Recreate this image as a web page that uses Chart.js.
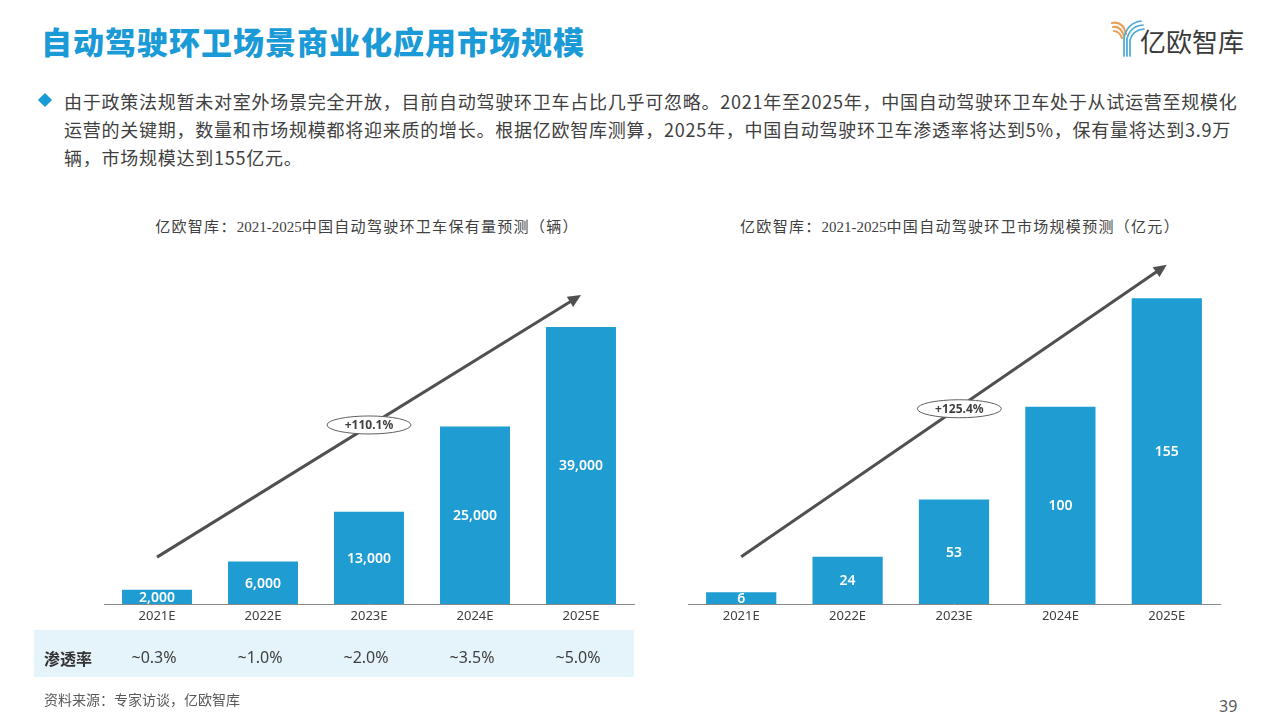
<!DOCTYPE html>
<html>
<head>
<meta charset="utf-8">
<script src="https://cdn.jsdelivr.net/npm/chart.js@4/dist/chart.umd.min.js"></script>
<style>
  body { margin: 0; background: #fff; font-family: "Noto Sans CJK SC", "Noto Sans", sans-serif; }
  #page { position: relative; width: 1280px; height: 720px; overflow: hidden; }
  .title { position: absolute; left: 41px; top: 18px; font-size: 31px; font-weight: 900; color: #1a9ad6; letter-spacing: 1px; }
  .para { position: absolute; left: 64px; top: 87px; font-size: 18px; line-height: 28px; color: #404040; letter-spacing: 0.75px; white-space: nowrap; }
  .bullet { position: absolute; left: 40px; top: 95px; width: 10px; height: 10px; background: #1a9ad6; transform: rotate(45deg); }
  .ctitle { position: absolute; top: 215px; font-size: 15px; color: #404040; font-family: "Noto Sans CJK SC", sans-serif; white-space: nowrap; transform: translateX(-50%); letter-spacing: 1.3px; }
  .ctitle .d { font-family: "Liberation Serif", serif; font-size: 15px; letter-spacing: 0; }
  .source { position: absolute; left: 44px; top: 689px; font-size: 14px; color: #595959; }
  .pnum { position: absolute; left: 1219px; top: 695px; font-size: 16px; color: #595959; font-family: "Noto Sans", sans-serif; }
  .logo { position: absolute; left: 1108px; top: 16px; }
  canvas { position: absolute; }
</style>
</head>
<body>
<div id="page">
  <div class="title">自动驾驶环卫场景商业化应用市场规模</div>
  <svg class="logo" width="150" height="44" viewBox="0 0 150 44">
    <g fill="none" stroke-linecap="round">
      <path d="M4 7 Q15 5 18 18" stroke="#e9a15b" stroke-width="2.2"/>
      <path d="M5 11 Q13 10 16 20" stroke="#e9a15b" stroke-width="2.2"/>
      <path d="M6 15 Q11 15 14 22" stroke="#e9a15b" stroke-width="2.2"/>
      <path d="M33 5 Q19 7 16 22 L16 40" stroke="#4aa8d8" stroke-width="1.7"/>
      <path d="M35 9 Q22 10 19 23 L19 40" stroke="#4aa8d8" stroke-width="1.7"/>
      <path d="M36 13 Q25 14 22 24 L22 40" stroke="#4aa8d8" stroke-width="1.7"/>
    </g>
    <text x="32" y="36" font-size="26" fill="#3a3a3a" font-family="Noto Sans CJK SC" font-weight="400">亿欧智库</text>
  </svg>
  <div class="bullet"></div>
  <div class="para">由于政策法规暂未对室外场景完全开放，目前自动驾驶环卫车占比几乎可忽略。2021年至2025年，中国自动驾驶环卫车处于从试运营至规模化<br>运营的关键期，数量和市场规模都将迎来质的增长。根据亿欧智库测算，2025年，中国自动驾驶环卫车渗透率将达到5%，保有量将达到3.9万<br>辆，市场规模达到155亿元。</div>
  <div class="ctitle" style="left:367px">亿欧智库：<span class="d">2021-2025</span>中国自动驾驶环卫车保有量预测（辆）</div>
  <div class="ctitle" style="left:960px">亿欧智库：<span class="d">2021-2025</span>中国自动驾驶环卫市场规模预测（亿元）</div>
  <canvas id="c1" width="610" height="450" style="left:34px; top:240px; width:610px; height:450px"></canvas>
  <canvas id="c2" width="596" height="450" style="left:644px; top:240px; width:596px; height:450px"></canvas>
  <div class="source">资料来源：专家访谈，亿欧智库</div>
  <div class="pnum">39</div>
</div>
<script>
const years = ['2021E', '2022E', '2023E', '2024E', '2025E'];
const fleetValues = [2000, 6000, 13000, 25000, 39000];
const marketValues = [6, 24, 53, 100, 155];
const penetration = ['~0.3%', '~1.0%', '~2.0%', '~3.5%', '~5.0%'];
const fleetCagr = '+110.1%';
const marketCagr = '+125.4%';

const barColor = '#1f9dd2';

// labels inside bars, arrow with CAGR bubble, optional penetration row
const overlay = {
  id: 'overlay',
  afterDatasetsDraw(chart, args, opts) {
    const ctx = chart.ctx;
    const meta = chart.getDatasetMeta(0);
    const vals = chart.data.datasets[0].data;
    ctx.save();
    ctx.fillStyle = '#fff';
    ctx.font = '600 14px "Noto Sans", sans-serif';
    ctx.textAlign = 'center';
    ctx.textBaseline = 'middle';
    meta.data.forEach((bar, i) => {
      ctx.fillText(vals[i].toLocaleString('en-US'), bar.x, (bar.y + bar.base) / 2 + 1);
    });
    ctx.restore();
  },
  afterDraw(chart, args, opts) {
    const ctx = chart.ctx;
    const xs = chart.scales.x, ys = chart.scales.y;
    const x1 = xs.getPixelForValue(opts.from[0]), y1 = ys.getPixelForValue(opts.from[1]);
    const x2 = xs.getPixelForValue(opts.to[0]), y2 = ys.getPixelForValue(opts.to[1]);
    const ang = Math.atan2(y2 - y1, x2 - x1);
    ctx.save();
    ctx.strokeStyle = '#505050';
    ctx.fillStyle = '#505050';
    ctx.lineWidth = 3;
    ctx.beginPath();
    ctx.moveTo(x1, y1);
    ctx.lineTo(x2 - 8 * Math.cos(ang), y2 - 8 * Math.sin(ang));
    ctx.stroke();
    ctx.translate(x2, y2);
    ctx.rotate(ang);
    ctx.beginPath();
    ctx.moveTo(0, 0);
    ctx.lineTo(-13, -6);
    ctx.lineTo(-13, 6);
    ctx.closePath();
    ctx.fill();
    ctx.restore();

    const bx = xs.getPixelForValue(opts.bubble[0]), by = ys.getPixelForValue(opts.bubble[1]);
    ctx.save();
    ctx.beginPath();
    ctx.ellipse(bx, by, 42, 9, 0, 0, Math.PI * 2);
    ctx.fillStyle = '#fff';
    ctx.fill();
    ctx.strokeStyle = '#606060';
    ctx.lineWidth = 1;
    ctx.stroke();
    ctx.fillStyle = '#404040';
    ctx.font = 'bold 12px "Noto Sans", sans-serif';
    ctx.textAlign = 'center';
    ctx.textBaseline = 'middle';
    ctx.fillText(opts.text, bx, by + 0.5);
    ctx.restore();

    if (opts.row) {
      ctx.save();
      ctx.fillStyle = '#e5f3fa';
      ctx.fillRect(0, 390, 600, 47);
      ctx.fillStyle = '#333';
      ctx.font = 'bold 16px "Noto Sans CJK SC", sans-serif';
      ctx.textBaseline = 'middle';
      ctx.textAlign = 'left';
      ctx.fillText('渗透率', 10, 419);
      ctx.fillStyle = '#404040';
      ctx.font = '16px "Noto Sans", sans-serif';
      ctx.textAlign = 'center';
      opts.row.forEach((t, i) => {
        ctx.fillText(t, xs.getPixelForValue(i) - 3, 418);
      });
      ctx.restore();
    }
  }
};

function makeChart(id, values, yMax, padL, padR, padT, ov) {
  return new Chart(document.getElementById(id), {
    type: 'bar',
    data: {
      labels: years,
      datasets: [{
        data: values,
        backgroundColor: barColor,
        barPercentage: 0.66,
        categoryPercentage: 1
      }]
    },
    options: {
      responsive: false,
      animation: false,
      layout: { padding: { left: padL, right: padR, top: padT, bottom: 0 } },
      plugins: { legend: { display: false }, tooltip: { enabled: false }, overlay: ov },
      scales: {
        x: {
          grid: { display: false, drawTicks: false },
          border: { display: true, color: '#8a8a8a', width: 1 },
          ticks: { color: '#404040', font: { size: 13, family: '"Noto Sans", sans-serif' }, padding: 4 },
          afterFit(s) { s.height = 86; }
        },
        y: { display: false, min: 0, max: yMax }
      }
    },
    plugins: [overlay]
  });
}

makeChart('c1', fleetValues, 48000, 70, 10, 23, {
  from: [0, 6600], to: [4, 43500], bubble: [2, 25200], text: fleetCagr, row: penetration
});
makeChart('c2', marketValues, 180, 44, 20, 9, {
  from: [0, 24], to: [4, 172], bubble: [2.05, 99], text: marketCagr
});
</script>
</body>
</html>
